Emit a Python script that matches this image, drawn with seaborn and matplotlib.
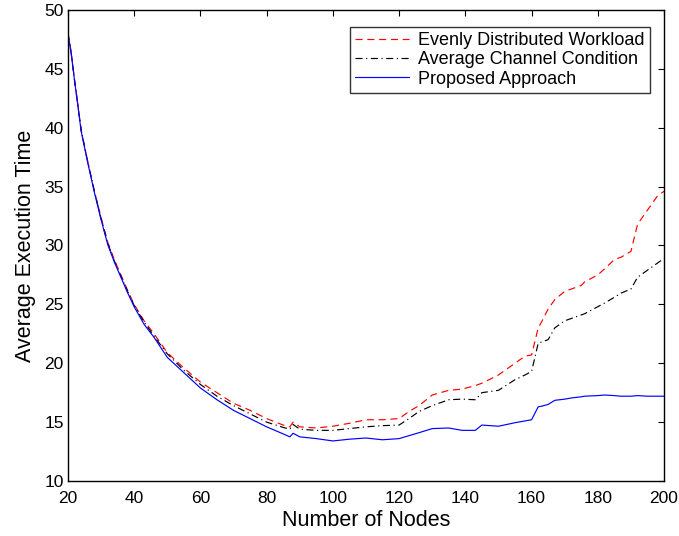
import pandas as pd
import matplotlib
matplotlib.use('Agg')
import matplotlib.pyplot as plt
import seaborn as sns

nodes = [20, 21, 22, 23, 24, 26, 28, 30, 32, 34, 36, 38, 40, 43, 46, 50, 55, 60, 65, 70,
         75, 80, 85, 87, 88, 90, 95, 100, 105, 110, 115, 120, 123, 126, 130, 135, 139, 143, 145, 150,
         155, 158, 160, 162, 163, 165, 167, 170, 172, 175, 176, 180, 182, 185, 187, 190, 192, 195, 198, 200]

evenly = [48.1, 46.4, 44.1, 42.0, 39.8, 37.1, 34.6, 32.4, 30.3, 28.8, 27.5, 26.2, 25.0, 23.6, 22.5, 20.9, 19.6, 18.4, 17.5, 16.6,
          16.0, 15.3, 14.75, 14.6, 15.0, 14.6, 14.5, 14.65, 14.9, 15.2, 15.2, 15.3, 15.9, 16.4, 17.3, 17.7, 17.8, 18.1, 18.3, 19.0,
          20.0, 20.6, 20.7, 23.0, 23.5, 24.6, 25.4, 26.1, 26.3, 26.6, 26.9, 27.5, 28.0, 28.8, 29.0, 29.5, 31.8, 33.0, 34.2, 34.6]

channel = [48.0, 46.3, 44.0, 41.9, 39.8, 37.1, 34.6, 32.3, 30.2, 28.7, 27.4, 26.1, 24.9, 23.5, 22.3, 20.8, 19.4, 18.2, 17.2, 16.4,
           15.7, 15.0, 14.55, 14.4, 14.8, 14.4, 14.3, 14.3, 14.45, 14.6, 14.7, 14.75, 15.3, 15.9, 16.4, 16.9, 16.95, 16.9, 17.5, 17.7,
           18.6, 19.0, 19.3, 21.7, 21.8, 22.0, 23.0, 23.6, 23.8, 24.1, 24.2, 24.8, 25.1, 25.6, 25.95, 26.3, 27.3, 27.9, 28.5, 28.9]

proposed = [48.0, 46.3, 44.0, 41.9, 39.7, 37.0, 34.5, 32.2, 30.1, 28.6, 27.3, 26.0, 24.8, 23.3, 22.2, 20.5, 19.2, 17.9, 16.9, 16.0,
            15.3, 14.6, 14.0, 13.75, 14.05, 13.75, 13.6, 13.4, 13.55, 13.65, 13.5, 13.6, 13.85, 14.1, 14.45, 14.5, 14.3, 14.3, 14.75, 14.65,
            14.95, 15.1, 15.2, 16.3, 16.35, 16.5, 16.85, 16.95, 17.05, 17.15, 17.2, 17.25, 17.3, 17.25, 17.2, 17.2, 17.25, 17.2, 17.2, 17.2]

labels = ['Evenly Distributed Workload', 'Average Channel Condition', 'Proposed Approach']

df = pd.concat([
    pd.DataFrame({'nodes': nodes, 'time': evenly, 'method': labels[0]}),
    pd.DataFrame({'nodes': nodes, 'time': channel, 'method': labels[1]}),
    pd.DataFrame({'nodes': nodes, 'time': proposed, 'method': labels[2]}),
])

sns.set_theme(style='white')
plt.rcParams['font.family'] = ['Liberation Sans', 'DejaVu Sans']
plt.rcParams['xtick.direction'] = 'in'
plt.rcParams['ytick.direction'] = 'in'
plt.rcParams['text.color'] = 'black'
plt.rcParams['axes.labelcolor'] = 'black'
plt.rcParams['xtick.color'] = 'black'
plt.rcParams['ytick.color'] = 'black'

fig = plt.figure(figsize=(6.79, 5.36), dpi=100)
ax = fig.add_axes([0.100, 0.1026, 0.878, 0.879])

sns.lineplot(data=df, x='nodes', y='time', hue='method', style='method',
             hue_order=labels, style_order=labels,
             palette={labels[0]: '#ff0000', labels[1]: '#000000', labels[2]: '#0000ff'},
             dashes={labels[0]: (6, 4), labels[1]: (6, 3, 1, 3), labels[2]: ''},
             linewidth=0.85, ax=ax)

ax.set_xlim(20, 200)
ax.set_ylim(10, 50)
ax.set_xticks(range(20, 201, 20))
ax.set_yticks(range(10, 51, 5))
ax.tick_params(axis='both', labelsize=12.5, length=4.5, width=0.8,
               top=True, right=True)
ax.tick_params(axis='x', pad=7)
ax.tick_params(axis='y', pad=3)
for s in ax.spines.values():
    s.set_color('black')
    s.set_linewidth(1.0)
ax.set_xlabel('Number of Nodes', fontsize=15.5, labelpad=3)
ax.set_ylabel('Average Execution Time', fontsize=15.5, labelpad=6)

handles, lbls = ax.get_legend_handles_labels()
leg = ax.legend(handles, lbls, loc='upper right', bbox_to_anchor=(0.9766, 0.964),
                borderaxespad=0, fontsize=13, frameon=True, fancybox=False,
                edgecolor='black', handlelength=3.0, labelspacing=0.12,
                borderpad=0.3, handletextpad=0.5)
leg.get_frame().set_linewidth(1.0)
for t in leg.get_texts():
    t.set_color('black')

fig.savefig('out.png', dpi=100)
